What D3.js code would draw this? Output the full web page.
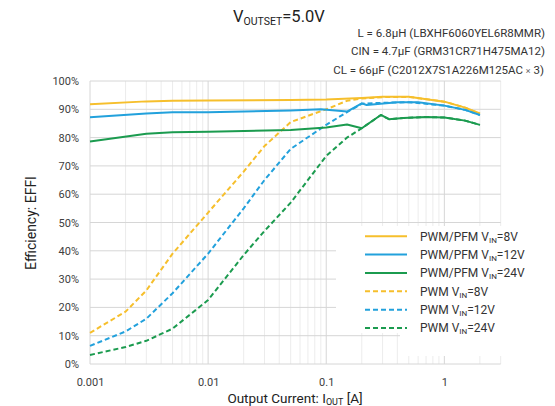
<!DOCTYPE html>
<meta charset="utf-8">
<script src="https://d3js.org/d3.v7.min.js"></script>
<style>
body { margin: 0; background: #fff; }
svg { font-family: Roboto, "Liberation Sans", sans-serif; }
</style>
<div id="chart"></div>
<script>

// output current [A] and efficiency [%] per curve
var iPfm8  = [0.001, 0.003, 0.005, 0.01, 0.05, 0.1, 0.2, 0.3, 0.5, 1, 1.5, 2];
var effPfm8 = [91.8, 92.8, 93.0, 93.1, 93.3, 93.5, 94.0, 94.4, 94.4, 92.7, 90.6, 88.5];

var iPfm12  = [0.001, 0.003, 0.005, 0.01, 0.05, 0.09, 0.15, 0.2, 0.22, 0.4, 0.6, 1, 1.5, 2];
var effPfm12 = [87.2, 88.5, 89.0, 89.0, 89.6, 90.0, 89.2, 92.1, 91.5, 92.5, 92.5, 91.3, 89.8, 88.0];

var iPfm24  = [0.001, 0.003, 0.005, 0.01, 0.05, 0.1, 0.15, 0.2, 0.29, 0.34, 0.45, 0.7, 1, 1.5, 2];
var effPfm24 = [78.6, 81.4, 81.9, 82.1, 82.7, 83.6, 84.6, 83.3, 88.0, 86.5, 86.9, 87.3, 87.1, 86.0, 84.5];

var iPwm8  = [0.001, 0.002, 0.003, 0.005, 0.01, 0.02, 0.03, 0.05, 0.1, 0.15, 0.2, 0.3, 0.5, 1, 1.5, 2];
var effPwm8 = [11.0, 18.5, 26.0, 39.0, 53.5, 68.0, 77.0, 85.5, 90.0, 93.0, 93.8, 94.3, 94.4, 92.7, 90.6, 88.4];

var iPwm12  = [0.001, 0.002, 0.003, 0.005, 0.01, 0.02, 0.03, 0.05, 0.1, 0.15, 0.2, 0.3, 0.5, 1, 1.5, 2];
var effPwm12 = [6.4, 11.5, 16.0, 25.0, 39.0, 55.0, 65.0, 76.0, 84.5, 89.0, 92.0, 92.3, 92.5, 91.3, 89.8, 88.0];

var iPwm24  = [0.001, 0.002, 0.003, 0.005, 0.01, 0.02, 0.03, 0.05, 0.1, 0.15, 0.2, 0.29, 0.34, 0.45, 0.7, 1, 1.5, 2];
var effPwm24 = [3.2, 6.0, 8.2, 12.5, 22.6, 38.5, 47.0, 57.0, 73.5, 80.0, 83.3, 88.0, 86.5, 86.9, 87.3, 87.1, 86.0, 84.5];

var yTicks = [0, 10, 20, 30, 40, 50, 60, 70, 80, 90, 100];
var xTicks = [0.001, 0.01, 0.1, 1];
var xTickLabels = ["0.001", "0.01", "0.1", "1"];

var seriesNames = ["PWM/PFM", "PWM/PFM", "PWM/PFM", "PWM", "PWM", "PWM"];
var seriesVin = ["8V", "12V", "24V", "8V", "12V", "24V"];

var yellow = "#f6bf2c", blue = "#22a1dc", green = "#1b9b4f";

var series = [
  {name: seriesNames[0], vin: seriesVin[0], i: iPfm8,  e: effPfm8,  color: yellow, dash: null},
  {name: seriesNames[1], vin: seriesVin[1], i: iPfm12, e: effPfm12, color: blue,   dash: null},
  {name: seriesNames[2], vin: seriesVin[2], i: iPfm24, e: effPfm24, color: green,  dash: null},
  {name: seriesNames[3], vin: seriesVin[3], i: iPwm8,  e: effPwm8,  color: yellow, dash: "5,3"},
  {name: seriesNames[4], vin: seriesVin[4], i: iPwm12, e: effPwm12, color: blue,   dash: "5,3"},
  {name: seriesNames[5], vin: seriesVin[5], i: iPwm24, e: effPwm24, color: green,  dash: "5,3"}
];

var W = 555, H = 406;
var plotL = 90, plotR = 500.7, plotT = 81, plotB = 364;

var svg = d3.select("#chart").append("svg")
  .attr("width", W).attr("height", H);

var x = d3.scaleLog().domain([0.001, 3]).range([plotL, plotR]);
var y = d3.scaleLinear().domain([0, 100]).range([plotB, plotT]);

// minor vertical grid
var minor = [];
[0.001, 0.01, 0.1, 1].forEach(function(d) {
  for (var k = 2; k <= 9; k++) if (d * k <= 3.0001) minor.push(d * k);
});

svg.append("g").selectAll("line").data(minor).join("line")
  .attr("x1", function(d) { return x(d); }).attr("x2", function(d) { return x(d); })
  .attr("y1", plotT).attr("y2", plotB)
  .attr("stroke", "#ececec").attr("stroke-width", 1);

svg.append("g").selectAll("line").data(xTicks).join("line")
  .attr("x1", function(d) { return x(d); }).attr("x2", function(d) { return x(d); })
  .attr("y1", plotT).attr("y2", plotB)
  .attr("stroke", "#d6d6d6").attr("stroke-width", 1);

svg.append("g").selectAll("line").data(yTicks).join("line")
  .attr("x1", plotL).attr("x2", plotR)
  .attr("y1", function(d) { return y(d); }).attr("y2", function(d) { return y(d); })
  .attr("stroke", "#d6d6d6").attr("stroke-width", 1);

// legend background hides the grid
svg.append("rect").attr("x", 336).attr("y", 226).attr("width", 170).attr("height", 107).attr("fill", "#fff");
svg.append("rect").attr("x", 400).attr("y", 333).attr("width", 106).attr("height", 23).attr("fill", "#fff");

// axes
var yAxis = svg.append("g")
  .attr("transform", "translate(" + plotL + ",0)")
  .call(d3.axisLeft(y).tickValues(yTicks).tickSize(0).tickPadding(11)
    .tickFormat(function(d) { return d + "%"; }));
yAxis.select(".domain").remove();
yAxis.selectAll("text").attr("font-size", 11).attr("fill", "#404040")
  .attr("font-family", "Roboto, sans-serif");

var xAxis = svg.append("g")
  .attr("transform", "translate(0," + plotB + ")")
  .call(d3.axisBottom(x).tickValues(xTicks).tickSize(0).tickPadding(14)
    .tickFormat(function(d, i) { return xTickLabels[i]; }));
xAxis.select(".domain").remove();
xAxis.selectAll("text").attr("font-size", 11).attr("fill", "#404040")
  .attr("font-family", "Roboto, sans-serif");

// curves (straight segments between measured points)
var line = d3.line()
  .x(function(d) { return x(d[0]); })
  .y(function(d) { return y(d[1]); });

// draw dashed first, solid on top
[3, 4, 5, 0, 1, 2].forEach(function(k) {
  var s = series[k];
  svg.append("path")
    .datum(d3.zip(s.i, s.e))
    .attr("d", line)
    .attr("fill", "none")
    .attr("stroke", s.color)
    .attr("stroke-width", 2)
    .attr("stroke-linejoin", "round")
    .attr("stroke-dasharray", s.dash);
});

// legend
var legend = svg.append("g");
var rowY = [236.3, 254.5, 273, 291.3, 309.7, 328];
series.forEach(function(s, k) {
  legend.append("line")
    .attr("x1", 365).attr("x2", 407)
    .attr("y1", rowY[k]).attr("y2", rowY[k])
    .attr("stroke", s.color).attr("stroke-width", 2)
    .attr("stroke-dasharray", s.dash);
  var t = legend.append("text")
    .attr("x", 420).attr("y", rowY[k] + 4.3)
    .attr("font-size", 12).attr("fill", "#333");
  t.append("tspan").text(s.name + " V");
  t.append("tspan").attr("font-size", 8).attr("dy", 2).text("IN");
  t.append("tspan").attr("dy", -2).text("=" + s.vin);
});

// titles
var title = svg.append("text").attr("x", 233).attr("y", 22)
  .attr("font-size", 16.5).attr("fill", "#222");
title.append("tspan").text("V");
title.append("tspan").attr("font-size", 10.5).attr("dy", 3).text("OUTSET");
title.append("tspan").attr("dy", -3).text("=5.0V");

var notes = ["L = 6.8\u03bcH (LBXHF6060YEL6R8MMR)", "CIN = 4.7\u03bcF (GRM31CR71H475MA12)"];
var notesY = [36.5, 54.5];
notes.forEach(function(n, k) {
  svg.append("text").attr("x", 545).attr("y", notesY[k])
    .attr("text-anchor", "end").attr("font-size", 11.5).attr("fill", "#333").text(n);
});
var cl = svg.append("text").attr("x", 544).attr("y", 74)
  .attr("text-anchor", "end").attr("font-size", 11.5).attr("fill", "#333");
cl.append("tspan").text("CL = 66\u03bcF (C2012X7S1A226M125AC ");
cl.append("tspan").attr("font-size", 9).attr("fill", "#666").text("\u00d7");
cl.append("tspan").text(" 3)");

svg.append("text")
  .attr("transform", "translate(36,223) rotate(-90)")
  .attr("text-anchor", "middle").attr("font-size", 14).attr("fill", "#222")
  .text("Efficiency: EFFI");

var xt = svg.append("text").attr("x", 295).attr("y", 403)
  .attr("text-anchor", "middle").attr("font-size", 13.5).attr("fill", "#222");
xt.append("tspan").text("Output Current: I");
xt.append("tspan").attr("font-size", 9).attr("dy", 2).text("OUT");
xt.append("tspan").attr("dy", -2).text(" [A]");

</script>
